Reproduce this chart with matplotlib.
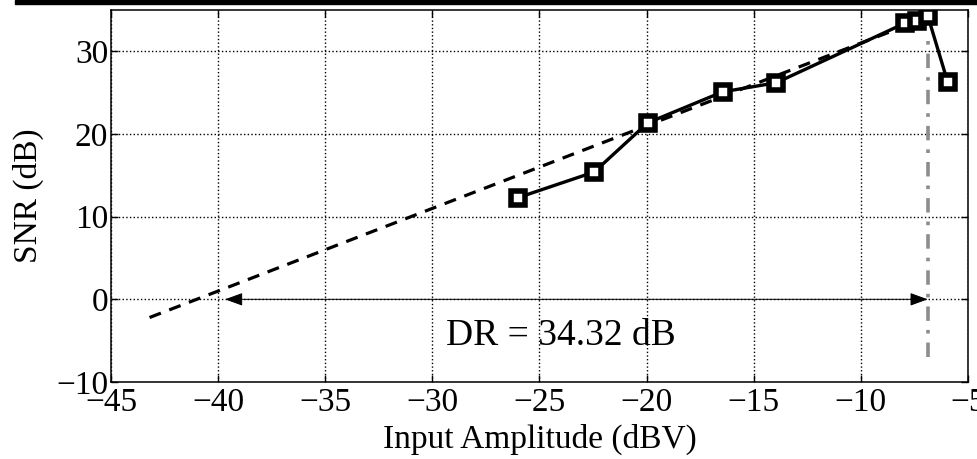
import matplotlib
matplotlib.use("Agg")
import matplotlib.pyplot as plt
from matplotlib.patches import Rectangle

plt.rcParams['font.family'] = ['Liberation Serif', 'DejaVu Serif']
plt.rcParams['axes.unicode_minus'] = True

# measured points
amp = [-26.0, -22.45, -19.95, -16.45, -13.95, -7.95, -7.4, -6.88, -5.95]
snr = [12.3, 15.4, 21.35, 25.1, 26.2, 33.4, 33.65, 34.32, 26.3]

# linear fit (dashed)
fit_x = [-43.2, -7.7]
fit_y = [-2.2, 33.3]

# dynamic range
dr_lo, dr_hi = -39.68, -6.88
dr_text = "DR = 34.32 dB"

fig = plt.figure(figsize=(9.77, 4.59), dpi=100)
ax = fig.add_axes([0.1136, 0.1678, 0.8772, 0.8104])

ax.plot(fit_x, fit_y, color='black', linestyle=(0, (3.8, 2.8)), linewidth=2.3, zorder=3)
ax.plot([dr_hi, dr_hi], [-7, 31.3], color='#8c8c8c', linewidth=2.6,
        linestyle=(0, (4, 2.5, 1, 2.5)), zorder=2)
ax.annotate('', xy=(dr_lo, 0), xytext=(dr_hi, 0),
            arrowprops=dict(arrowstyle='<|-|>,head_length=1.1,head_width=0.4',
                            color='black', lw=0.7, shrinkA=0, shrinkB=0), zorder=4)
ax.plot(amp, snr, color='black', linewidth=2.4, marker='s', markersize=10,
        markeredgewidth=4.0, markerfacecolor='white', markeredgecolor='black', zorder=5)
ax.text(-24.0, -4.35, dr_text, ha='center', va='center', fontsize=27)

ax.set_xlim(-45, -5)
ax.set_ylim(-10, 35)
ax.set_xticks(range(-45, -4, 5))
ax.set_yticks([-10, 0, 10, 20, 30])
ax.grid(True, color='black', linestyle=':', linewidth=1.0)
ax.tick_params(direction='in', top=True, right=True, labelsize=24, length=5, width=1, pad=2)
ax.tick_params(axis='x', pad=4)
for s in ax.spines.values():
    s.set_linewidth(1.1)
ax.set_xlabel('Input Amplitude (dBV)', fontsize=24, labelpad=4)
ax.set_ylabel('SNR (dB)', fontsize=24, labelpad=9)

# black rule at the top of the page
fig.patches.append(Rectangle((0.015, 0.991), 0.985, 0.009, transform=fig.transFigure,
                             color='black', zorder=10))

fig.savefig('out.png', dpi=100)
